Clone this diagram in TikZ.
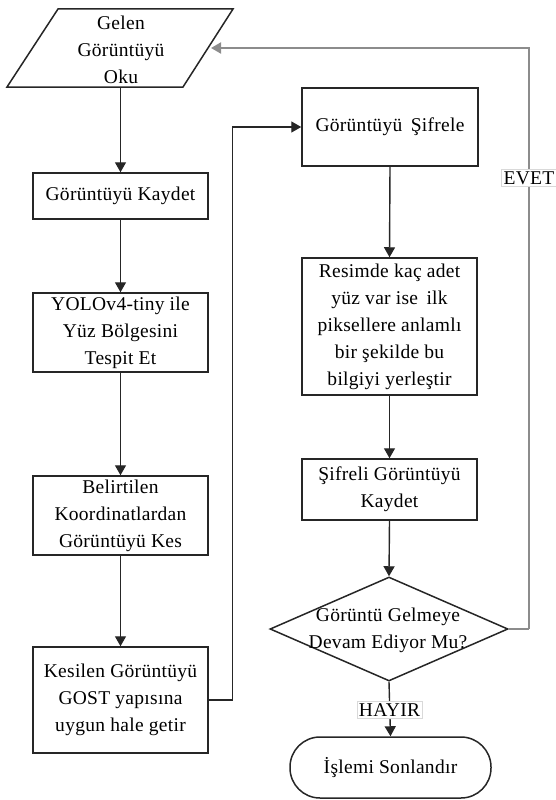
\documentclass[tikz,border=0pt]{standalone}
\usepackage{fontspec}
\setmainfont[LetterSpace=1.5]{Liberation Serif}
\usetikzlibrary{arrows.meta,shapes.geometric,calc}
\begin{document}
\begin{tikzpicture}[x=1pt,y=-1pt,
  every node/.style={font=\fontsize{19.5}{27}\selectfont, align=center, inner sep=0pt},
  proc/.style={draw=black!85, line width=1.5pt, minimum width=175pt},
  arr/.style={draw=black!85, line width=1.4pt, -{Triangle[length=10pt,width=11pt]}},
  loopln/.style={draw=black!45, line width=2pt},
  lbl/.style={fill=white, draw=black!15, line width=0.6pt, inner sep=2pt}
]
\useasboundingbox (0,0) rectangle (556,800);
% parallelogram input
\draw[draw=black!85, line width=1.5pt] (58,9) -- (233,9) -- (183,87) -- (7,87) -- cycle;
\node (par) at (121,50) {Gelen\\Görüntüyü\\Oku};
\coordinate (parB) at (120.5,87);
\coordinate (parR) at (211,48);
% left column
\node[proc, minimum height=46pt] (kaydet) at (120.5,196) {Görüntüyü Kaydet};
\node[proc, minimum height=79pt] (yolo) at (120.5,332.5) {YOLOv4-tiny ile\\Yüz Bölgesini\\Tespit Et};
\node[proc, minimum height=79pt] (belirt) at (120.5,515.5) {Belirtilen\\Koordinatlardan\\Görüntüyü Kes};
\node[proc, minimum height=106pt] (kesilen) at (120.5,700) {Kesilen Görüntüyü\\GOST yapısına\\uygun hale getir};
% right column
\node[proc, minimum height=78pt, minimum width=176pt] (sifrele) at (390,127) {Görüntüyü\, Şifrele};
\node[proc, minimum height=137pt] (resim) at (389.5,326.5) {Resimde kaç adet\\yüz var ise\, ilk\\piksellere anlamlı\\bir şekilde bu\\bilgiyi yerleştir};
\node[proc, minimum height=61pt] (sifreli) at (389.5,489.5) {Şifreli Görüntüyü\\Kaydet};
\node[diamond, draw=black!85, line width=1.5pt, minimum width=238pt, minimum height=104pt, aspect=2.3] (dia) at (389,629) {};
\node at (388,630) {Görüntü Gelmeye\\Devam Ediyor Mu?};
\node[draw=black!85, line width=1.5pt, rounded corners=30pt, minimum width=201pt, minimum height=61pt] (term) at (390.5,767.5) {İşlemi Sonlandır};
% connectors
\draw[arr] (parB) -- (kaydet.north);
\draw[arr] (kaydet.south) -- (yolo.north);
\draw[arr] (yolo.south) -- (belirt.north);
\draw[arr] (belirt.south) -- (kesilen.north);
\draw[arr] (kesilen.east) -- ++(24,0) |- (sifrele.west);
\draw[arr] (sifrele.south) -- (resim.north);
\draw[arr] (resim.south) -- (sifreli.north);
\draw[arr] (sifreli.south) -- (dia.north);
\draw[arr] (dia.south) -- (term.north);
\coordinate (loopc) at (529,629);
\draw[loopln] (dia.east) -- (loopc);
\draw[loopln, -{Triangle[length=10pt,width=11pt]}] (loopc) |- (parR);
\node[lbl] (evet) at (529,178) {EVET};
\node[lbl] (hayir) at (389.5,710) {HAYIR};
\end{tikzpicture}
\end{document}
